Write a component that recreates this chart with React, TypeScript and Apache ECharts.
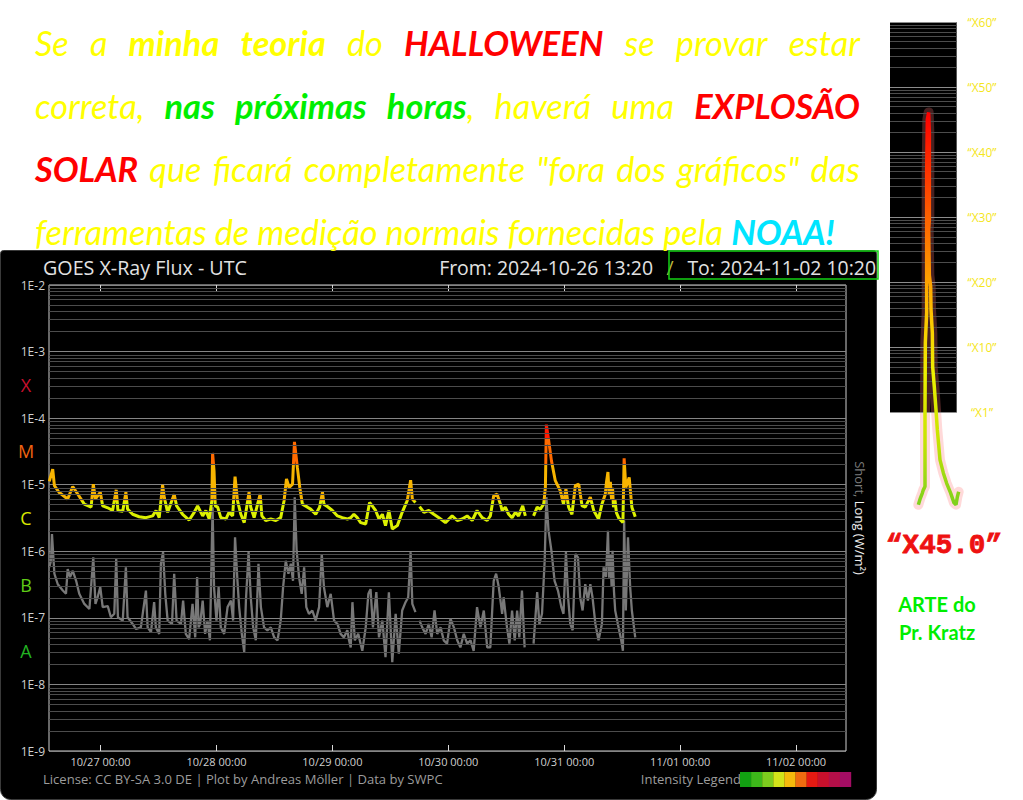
import React, { useEffect, useRef } from 'react';
import * as echarts from 'echarts';

// ---------- axis / tick data ----------
const dayTicks = [0, 24, 48, 72, 96, 120, 144]; // hours since 2024-10-27 00:00 UTC
const dayLabels = ['10/27 00:00', '10/28 00:00', '10/29 00:00', '10/30 00:00', '10/31 00:00', '11/01 00:00', '11/02 00:00'];
const rangeStartHour = -10 - 40 / 60; // 2024-10-26 13:20
const rangeEndHour = 154 + 20 / 60; // 2024-11-02 10:20
const fluxMinExp = -9;
const fluxMaxExp = -2;
const classLetters = ['A', 'B', 'C', 'M', 'X'];
const classLetterExp = [-7.5, -6.5, -5.5, -4.5, -3.5];
const classColors = ['#22b422', '#5fcc16', '#d8e800', '#f06410', '#c8102e'];
const legendColors = ['#12a012', '#3db81a', '#7dcc1e', '#d2e41a', '#f5ba0c', '#ef6c10', '#e51a12', '#c8102c', '#b30f48', '#a30d64'];

// ---------- GOES long channel (0.1-0.8 nm), W/m² ----------
const longTime = [
  -10.6, -9.9, -9.55, -8.6, -6.8, -5.75, -4.7, -3.35, -1.95, -1.5, -1.05, -0.6, -0.05, 0.45, 1.5, 2.5, 3.25, 3.6, 4.6, 5.25,
  5.6, 6.65, 8.0, 9.4, 10.8, 11.5, 12.15, 12.85, 13.2, 13.9, 15.25, 15.75, 17.0, 18.35, 19.4, 20.1, 21.15, 21.8, 22.5, 23.05,
  23.2, 23.5, 23.75, 24.25, 24.9, 25.95, 26.6, 27.35, 27.85, 28.35, 29.05, 29.75, 30.75, 31.1, 31.8, 33.05, 33.4, 34.2, 35.25, 36.3,
  37.3, 38.0, 38.5, 39.05, 39.75, 40.15, 40.75, 41.25, 41.8, 42.85, 43.5, 44.55, 45.35, 45.95, 46.25, 46.95, 48.0, 49.05, 50.05, 51.1,
  51.8, 52.45, 53.15, 53.85, 54.9, 55.7, 56.25, 56.95, 57.65, 58.35, 59.0, 59.7, 60.4, 61.45, 62.45, 63.5, 64.2, 64.55, 65.2, 65.6,
  66.05, 66.95, 67.95, 69.0, 70.05, 71.4, 72.8, 73.85, 74.85, 75.9, 76.95, 77.95, 79.0, 80.05, 80.7, 81.4, 82.1, 82.8, 83.15, 83.8,
  84.5, 85.2, 85.9, 86.55, 87.4, 87.95, 88.8, 89.65, 90.4, 91.05, 91.75, 92.1, 92.3, 92.75, 93.35, 94.15, 95.2, 95.85, 96.35, 96.9,
  97.6, 98.3, 99.0, 99.7, 100.35, 101.4, 102.1, 103.1, 103.8, 104.5, 104.75, 105.05, 105.3, 105.55, 105.8, 106.0, 106.2, 106.5, 106.8, 107.25,
  108.15, 108.4, 108.75, 109.45, 110.0, 110.7,
];
const longFlux: (number | null)[] = [
  1.12e-5, 1.72e-5, 9.7e-6, 7.7e-6, 6.1e-6, 9.4e-6, 7.2e-6, 5.1e-6, 4.6e-6, 1.02e-5, 6.1e-6, 6.8e-6, 7.7e-6, 4.8e-6, 4.5e-6, 4.1e-6, 8.4e-6, 4.1e-6, 4.0e-6, 7.7e-6,
  4.3e-6, 3.6e-6, 3.3e-6, 3.2e-6, 3.4e-6, 4.1e-6, 3.2e-6, 9.9e-6, 6.4e-6, 3.85e-6, 7.2e-6, 4.8e-6, 3.6e-6, 2.95e-6, 3.85e-6, 4.8e-6, 3.4e-6, 4.1e-6, 3.05e-6, 5.75e-6,
  3.0e-5, 1.62e-5, 4.8e-6, 4.6e-6, 3.2e-6, 3.05e-6, 3.85e-6, 3.4e-6, 1.32e-5, 5.75e-6, 3.6e-6, 2.7e-6, 7.7e-6, 4.6e-6, 3.2e-6, 7.2e-6, 3.4e-6, 2.9e-6, 3.05e-6, 2.9e-6,
  3.2e-6, 5.75e-6, 1.22e-5, 9.1e-6, 1.02e-5, 4.4e-5, 1.82e-5, 9.1e-6, 5.1e-6, 4.6e-6, 4.3e-6, 3.6e-6, 4.6e-6, 7.7e-6, 5.1e-6, 4.7e-6, 4.1e-6, 3.4e-6, 3.2e-6, 3.05e-6,
  3.2e-6, 3.6e-6, 3.2e-6, 2.7e-6, 2.57e-6, 5.4e-6, 4.8e-6, 4.1e-6, 3.05e-6, 3.6e-6, 2.43e-6, 4.1e-6, 2.16e-6, 2.43e-6, 3.85e-6, 5.75e-6, 1.17e-5, 6.1e-6, 5.4e-6, null,
  4.7e-6, 3.85e-6, 4.1e-6, 3.6e-6, 3.2e-6, 2.7e-6, 3.4e-6, 2.9e-6, 3.05e-6, 3.4e-6, 2.9e-6, 4.1e-6, 3.2e-6, 2.9e-6, 3.4e-6, 6.8e-6, 7.2e-6, 5.1e-6, 4.1e-6, 4.6e-6,
  3.6e-6, 3.2e-6, 3.85e-6, 3.4e-6, 4.8e-6, 3.4e-6, null, 3.4e-6, 4.6e-6, 4.3e-6, 5.1e-6, 9.1e-6, 8.0e-5, 4.8e-5, 2.3e-5, 1.15e-5, 8.1e-6, 5.1e-6, 8.6e-6, 4.6e-6,
  3.6e-6, 9.7e-6, 1.02e-5, 4.8e-6, 4.6e-6, 6.5e-6, 4.1e-6, 3.05e-6, 5.1e-6, 7.2e-6, 1.1e-5, 1.55e-5, 7.0e-6, 1.1e-5, 6.0e-6, 9.0e-6, 4.6e-6, 6.0e-6, 3.8e-6, 3.2e-6,
  2.7e-6, 2.5e-5, 9.1e-6, 1.29e-5, 4.6e-6, 3.3e-6,
];

// ---------- GOES short channel (0.05-0.4 nm), W/m² ----------
const shortTime = [
  -10.6, -10.25, -10.05, -9.55, -8.85, -7.8, -7.15, -6.8, -6.3, -5.75, -5.05, -4.4, -3.35, -2.3, -1.5, -1.05, -0.6, -0.05, 0.45, 1.5,
  2.15, 2.85, 3.25, 3.6, 4.6, 5.25, 5.6, 6.65, 7.35, 8.35, 9.4, 9.75, 10.45, 11.1, 11.45, 12.15, 12.5, 12.95, 13.4, 13.9,
  14.8, 15.25, 15.75, 16.65, 17.1, 17.65, 18.35, 19.05, 19.6, 20.0, 20.3, 20.6, 21.15, 21.65, 22.15, 22.65, 23.2, 23.5, 24.0, 24.45,
  24.9, 25.6, 26.3, 27.0, 27.45, 27.85, 28.35, 28.7, 29.25, 29.75, 30.1, 30.65, 31.1, 31.6, 32.15, 32.7, 33.2, 33.85, 34.55, 35.25,
  35.95, 36.65, 37.3, 37.8, 38.35, 38.9, 39.4, 39.85, 40.2, 40.6, 41.1, 41.65, 42.15, 42.6, 43.15, 43.85, 44.55, 45.25, 45.8, 46.25,
  46.95, 47.65, 48.35, 49.05, 49.7, 50.4, 51.1, 51.45, 51.8, 52.15, 52.65, 53.35, 54.2, 54.9, 55.45, 55.9, 56.4, 57.1, 57.65, 58.35,
  59.0, 59.7, 60.4, 61.1, 61.75, 62.45, 63.15, 63.7, 64.2, 64.55, 65.2, 65.6, 66.05, 66.6, 67.3, 67.95, 68.55, 69.15, 69.7, 70.4,
  71.05, 71.75, 72.45, 73.15, 73.85, 74.5, 75.2, 75.9, 76.6, 77.25, 77.95, 78.65, 79.35, 80.05, 80.7, 81.4, 81.9, 82.45, 83.15, 83.45,
  84.15, 84.65, 85.2, 85.75, 86.25, 86.7, 87.25, 87.8, 88.8, 89.65, 90.4, 90.85, 91.4, 91.95, 92.3, 92.75, 93.35, 94.0, 94.7, 95.4,
  95.85, 96.35, 96.8, 97.25, 97.75, 98.3, 98.85, 99.3, 99.8, 100.35, 100.9, 101.4, 101.85, 102.45, 103.1, 103.8, 104.15, 104.65, 105.05, 105.3,
  105.55, 105.8, 106.0, 106.3, 106.55, 107.1, 107.8, 108.15, 108.4, 108.75, 109.2, 109.65, 110.0, 110.7,
];
const shortFlux: (number | null)[] = [
  5.75e-7, 7.2e-7, 1.82e-6, 4.6e-7, 3.2e-7, 2.57e-7, 2.3e-7, 5.4e-7, 4.1e-7, 5.1e-7, 3.6e-7, 2.3e-7, 1.62e-7, 1.36e-7, 8.1e-7, 1.62e-7, 2.04e-7, 2.9e-7, 1.45e-7, 1.5e-7,
  1.02e-7, 1.15e-7, 7.7e-7, 1.02e-7, 9.1e-8, 5.75e-7, 1.02e-7, 8.1e-8, 6.8e-8, 7.2e-8, 2.57e-7, 7.2e-8, 6.1e-8, 1.72e-7, 7.2e-8, 5.75e-8, 6.5e-7, 9.7e-7, 2.3e-7, 9.1e-8,
  8.1e-8, 4.6e-7, 9.1e-8, 8.1e-8, 1.82e-7, 5.75e-8, 4.8e-8, 1.62e-7, 5.1e-8, 4.1e-7, 7.2e-8, 8.0e-8, 1.82e-7, 5.75e-8, 9.1e-8, 4.6e-8, 4.6e-6, 2.9e-7, 9.1e-8, 2.9e-7,
  7.2e-8, 5.75e-8, 1.45e-7, 1.82e-7, 9.1e-8, 1.62e-6, 3.6e-7, 1.45e-7, 5.75e-8, 3.05e-8, 1.82e-7, 9.7e-7, 2.04e-7, 7.2e-8, 4.6e-8, 6.5e-7, 1.45e-7, 7.2e-8, 6.5e-8, 7.2e-8,
  5.1e-8, 4.6e-8, 9.1e-8, 2.9e-7, 7.2e-7, 4.6e-7, 6.5e-7, 3.6e-7, 6.5e-6, 1.02e-6, 4.1e-7, 2.3e-7, 5.75e-7, 1.45e-7, 1.15e-7, 1.29e-7, 9.1e-8, 1.45e-7, 9.1e-7, 2.9e-7,
  1.45e-7, 2.3e-7, 9.1e-8, 8.1e-8, 5.75e-8, 5.1e-8, 6.5e-8, 4.6e-8, 3.6e-8, 1.72e-7, 4.6e-8, 5.75e-8, 3.2e-8, 7.2e-8, 2.3e-7, 2.7e-7, 7.2e-8, 2.43e-7, 5.1e-8, 9.1e-8,
  2.57e-8, 2.43e-7, 2.16e-8, 1.15e-7, 2.9e-8, 1.29e-7, 1.72e-7, 2.04e-7, 9.7e-7, 1.62e-7, 1.22e-7, null, 9.1e-8, 7.2e-8, 5.75e-8, 8.1e-8, 5.1e-8, 1.29e-7, 5.75e-8, 7.2e-8,
  4.6e-8, 4.1e-8, 9.7e-8, 7.2e-8, 4.6e-8, 3.6e-8, 5.75e-8, 4.1e-8, 4.6e-8, 3.2e-8, 1.45e-7, 7.2e-8, 1.29e-7, 3.6e-8, 3.6e-8, 3.6e-7, 4.6e-7, 2.9e-7, 1.15e-7, 2.04e-7,
  7.2e-8, 4.1e-8, 1.29e-7, 4.6e-8, 1.29e-7, 5.1e-8, 2.57e-7, 3.6e-8, null, 4.1e-8, 2.43e-7, 8.1e-8, 1.15e-7, 7.2e-7, 6.5e-6, 2.04e-6, 1.02e-6, 3.6e-7, 2.57e-7, 1.45e-7,
  1.15e-7, 9.7e-7, 2.04e-7, 8.1e-8, 6.5e-8, 9.1e-7, 8.1e-7, 2.04e-7, 1.29e-7, 3.2e-7, 1.82e-7, 3.2e-7, 2.04e-7, 8.1e-8, 4.6e-8, 8.1e-8, 5.75e-7, 4.1e-7, 2.04e-6, 4.0e-7,
  9.1e-7, 3.0e-7, 1.02e-6, 2.5e-7, 1.29e-7, 8.1e-8, 4.6e-8, 3.2e-8, 2.9e-6, 1.29e-7, 1.62e-6, 2.9e-7, 1.29e-7, 5.1e-8,
];

// ---------- "X" sketch on the right (X-class units) ----------
const sparkTime = [42.5, 45.5, 48.5, 50, 51.5, 52.5, 52.5, 53, 55, 55, 55, 56, 58, 59, 59, 58, 59, 61, 61.5, 63.5, 64, 66.5, 69, 71, 75, 80, 85, 91, 96, 99, 101, 103];
const sparkLevel = [-14.2, -13.2, -12.4, -11.9, -11.6, -11.4, -0.1, 10.7, 15.3, 27.6, 36.8, 45.0, 46.1, 43.0, 29.6, 28.1, 21.1, 19.3, 15.8, 12.2, 7.0, 3.9, 0.4, -2.7, -7.3, -9.3, -10.9, -12.4, -13.9, -14.2, -13.0, -12.2];
const sparkTickValues = [0, 10, 20, 30, 40, 50, 60];
const sparkTickLabels = ['X1', 'X10', 'X20', 'X30', 'X40', 'X50', 'X60'];

// ---------- headline text ----------
type Seg = [string, string];
const headlineLines: Seg[][][] = [
  [[['Se', 'n']], [['a', 'n']], [['minha', 'yb']], [['teoria', 'yb']], [['do', 'n']], [['HALLOWEEN', 'r']], [['se', 'n']], [['provar', 'n']], [['estar', 'n']]],
  [[['correta,', 'n']], [['nas', 'g']], [['próximas', 'g']], [['horas', 'g'], [',', 'n']], [['haverá', 'n']], [['uma', 'n']], [['EXPLOSÃO', 'r']]],
  [[['SOLAR', 'r']], [['que', 'n']], [['ficará', 'n']], [['completamente', 'n']], [['"fora', 'n']], [['dos', 'n']], [['gráficos"', 'n']], [['das', 'n']]],
  [[['ferramentas', 'n']], [['de', 'n']], [['medição', 'n']], [['normais', 'n']], [['fornecidas', 'n']], [['pela', 'n']], [['NOAA!', 'c']]],
];
const headStyles: Record<string, { fill: string; weight: string }> = {
  n: { fill: '#ffff00', weight: 'normal' },
  yb: { fill: '#ffff00', weight: 'bold' },
  r: { fill: '#ff0000', weight: 'bold' },
  g: { fill: '#00ee00', weight: 'bold' },
  c: { fill: '#00e5ff', weight: 'bold' },
};

const HEAD_FONT = 'Lato';
const UI_FONT = 'Open Sans';

function makeMeasure() {
  const c = document.createElement('canvas');
  const ctx = c.getContext('2d') as CanvasRenderingContext2D;
  return (text: string, font: string) => {
    ctx.font = font;
    return ctx.measureText(text).width;
  };
}

function buildHeadline(measure: (t: string, f: string) => number) {
  const fnt = (k: string, s: number) => `italic ${headStyles[k].weight} ${s}px ${HEAD_FONT}`;
  const wordW = (w: Seg[], s: number) => w.reduce((a, sg) => a + measure(sg[0], fnt(sg[1], s)), 0);
  const last = headlineLines[headlineLines.length - 1];
  const sp100 = measure(' ', fnt('n', 100));
  const nat = last.reduce((a, w) => a + wordW(w, 100), 0) + sp100 * (last.length - 1);
  const size = (100 * 800) / nat;
  const left = 35;
  const right = 860;
  const ys = [42, 105, 168, 231];
  const els: any[] = [];
  headlineLines.forEach((line, li) => {
    const ws = line.map((w) => wordW(w, size));
    const total = ws.reduce((a, b) => a + b, 0);
    const gap = li < headlineLines.length - 1 ? (right - left - total) / (line.length - 1) : measure(' ', fnt('n', size));
    let x = left;
    line.forEach((w) => {
      w.forEach((sg) => {
        const st = headStyles[sg[1]];
        els.push({
          type: 'text',
          style: {
            text: sg[0], x, y: ys[li], fill: st.fill, fontSize: size, fontFamily: HEAD_FONT,
            fontStyle: 'italic', fontWeight: st.weight, align: 'left', verticalAlign: 'middle',
          },
        });
        x += measure(sg[0], fnt(sg[1], size));
      });
      x += gap;
    });
  });
  return els;
}

function fit(measure: (t: string, f: string) => number, text: string, family: string, weight: string, target: number) {
  return (100 * target) / measure(text, `${weight} 100px '${family}'`);
}

export default function App() {
  const ref = useRef<HTMLDivElement>(null);
  useEffect(() => {
    if (!ref.current) return;
    const chart = echarts.init(ref.current, null, { renderer: 'svg' });
    const measure = makeMeasure();

    const toLog = (v: number | null) => (v == null ? '-' : Math.log10(v));
    const longData = longTime.map((t, i) => [t, toLog(longFlux[i])]);
    const shortData = shortTime.map((t, i) => [t, toLog(shortFlux[i])]);
    const sparkData = sparkTime.map((t, i) => [t, sparkLevel[i]]);

    const minorLines: number[] = [];
    for (let k = fluxMinExp; k < fluxMaxExp; k++) for (let m = 2; m <= 9; m++) minorLines.push(k + Math.log10(m));
    const sparkMinor: number[] = [];
    for (let b = 0; b < 60; b += 10) for (let m = 2; m <= 9; m++) sparkMinor.push(b + 10 * Math.log10(m));

    const titleText = 'GOES X-Ray Flux - UTC';
    const fromText = 'From: 2024-10-26 13:20';
    const toText = 'To: 2024-11-02 10:20';
    const licText = 'License: CC BY-SA 3.0 DE | Plot by Andreas Möller | Data by SWPC';
    const titleSize = fit(measure, titleText, UI_FONT, 'normal', 204);
    const rangeSize = fit(measure, fromText, UI_FONT, 'normal', 214);
    const licSize = fit(measure, licText, UI_FONT, 'normal', 400);
    const xSize = fit(measure, '“X45.0”', 'Liberation Mono', 'bold', 116);

    const graphics: any[] = [
      { type: 'rect', z: -10, shape: { x: 0.5, y: 250.5, width: 876, height: 549, r: [3, 3, 10, 10] }, style: { fill: '#000', stroke: '#3a3a3a', lineWidth: 1 } },
      { type: 'text', style: { text: titleText, x: 43, y: 267, fill: '#e2e2e2', fontSize: titleSize, fontFamily: UI_FONT, verticalAlign: 'middle' } },
      { type: 'text', style: { text: fromText, x: 653, y: 267, fill: '#e2e2e2', fontSize: rangeSize, fontFamily: UI_FONT, align: 'right', verticalAlign: 'middle' } },
      { type: 'text', style: { text: '/', x: 670, y: 267, fill: '#b8b83a', fontSize: rangeSize, fontFamily: UI_FONT, align: 'center', verticalAlign: 'middle' } },
      { type: 'text', style: { text: toText, x: 876, y: 267, fill: '#e2e2e2', fontSize: rangeSize, fontFamily: UI_FONT, align: 'right', verticalAlign: 'middle' } },
      { type: 'rect', shape: { x: 669, y: 251, width: 209, height: 28 }, style: { fill: 'none', stroke: '#14d214', lineWidth: 1.5 } },
      { type: 'text', style: { text: licText, x: 43, y: 779, fill: '#9c9c9c', fontSize: licSize, fontFamily: UI_FONT, verticalAlign: 'middle' } },
      { type: 'text', style: { text: 'Intensity Legend', x: 741, y: 779, fill: '#9c9c9c', fontSize: licSize, fontFamily: UI_FONT, align: 'right', verticalAlign: 'middle' } },
      ...legendColors.map((c, i) => ({ type: 'rect', shape: { x: 740 + i * 11.1, y: 772, width: 11.3, height: 15 }, style: { fill: c } })),
      {
        type: 'text', x: 860, y: 518, rotation: -Math.PI / 2,
        style: {
          text: '{s|Short,} {l|Long (W/m²)}', x: 0, y: 0, align: 'center', verticalAlign: 'middle', fontSize: 13, fontFamily: UI_FONT,
          rich: { s: { fill: '#7c7c7c', fontSize: 13, fontFamily: UI_FONT }, l: { fill: '#f0f0f0', fontSize: 13, fontFamily: UI_FONT } },
        },
      },
      { type: 'text', style: { text: '“X45.0”', x: 944, y: 545, fill: '#ee1111', fontSize: xSize, fontFamily: 'Liberation Mono', fontWeight: 'bold', align: 'center', verticalAlign: 'middle', stroke: '#ee1111', lineWidth: 0.8 } },
      { type: 'text', style: { text: 'ARTE do', x: 937, y: 604, fill: '#00ee00', fontSize: 20, fontFamily: HEAD_FONT, fontWeight: 'bold', align: 'center', verticalAlign: 'middle' } },
      { type: 'text', style: { text: 'Pr. Kratz', x: 937, y: 632, fill: '#00ee00', fontSize: 20, fontFamily: HEAD_FONT, fontWeight: 'bold', align: 'center', verticalAlign: 'middle' } },
      ...buildHeadline(measure),
    ];

    const option: any = {
      animation: false,
      backgroundColor: '#ffffff',
      textStyle: { fontFamily: UI_FONT },
      grid: [
        { left: 49, top: 285, width: 797, height: 466, show: true, backgroundColor: '#000', borderColor: '#cfcfcf', borderWidth: 1, containLabel: false },
        { left: 890, top: 22, width: 70, height: 488, show: false, containLabel: false },
      ],
      xAxis: [
        {
          type: 'value', gridIndex: 0, position: 'bottom', min: rangeStartHour, max: rangeEndHour,
          axisLine: { show: false, onZero: false },
          axisTick: { show: true, inside: true, length: 6, customValues: dayTicks, lineStyle: { color: '#d8d8d8' } },
          axisLabel: {
            customValues: dayTicks, color: '#cfcfcf', fontSize: 11, fontFamily: UI_FONT, margin: 5,
            formatter: (v: number) => dayLabels[dayTicks.indexOf(Math.round(v))] || '',
          },
          splitLine: { show: false },
        },
        {
          type: 'value', gridIndex: 0, position: 'top', min: rangeStartHour, max: rangeEndHour,
          axisLine: { show: false, onZero: false },
          axisTick: { show: true, inside: true, length: 6, customValues: dayTicks, lineStyle: { color: '#d8d8d8' } },
          axisLabel: { show: false },
          splitLine: { show: false },
        },
        { type: 'value', gridIndex: 1, min: 0, max: 105, show: false, axisLine: { onZero: false } },
      ],
      yAxis: [
        {
          type: 'value', gridIndex: 0, position: 'left', min: fluxMinExp, max: fluxMaxExp, interval: 1,
          axisLine: { show: false, onZero: false }, axisTick: { show: false },
          axisLabel: { color: '#d0d0d0', fontSize: 12, fontFamily: UI_FONT, margin: 4, formatter: (v: number) => '1E' + Math.round(v) },
          splitLine: { show: true, lineStyle: { color: '#858585', width: 1 } },
        },
        {
          type: 'value', gridIndex: 0, position: 'left', min: fluxMinExp, max: fluxMaxExp,
          axisLine: { show: false, onZero: false }, axisTick: { show: false }, splitLine: { show: false },
          axisLabel: {
            customValues: classLetterExp, fontSize: 18, fontFamily: UI_FONT, align: 'center', margin: 23,
            formatter: (v: number) => {
              const i = classLetterExp.findIndex((p) => Math.abs(p - Number(v)) < 0.01);
              return i >= 0 ? classLetters[i] : '';
            },
            color: (v: any) => {
              const i = classLetterExp.findIndex((p) => Math.abs(p - Number(v)) < 0.01);
              return i >= 0 ? classColors[i] : '#fff';
            },
          },
        },
        {
          type: 'value', gridIndex: 1, position: 'right', min: -15, max: 60,
          axisLine: { show: false, onZero: false }, axisTick: { show: false }, splitLine: { show: false },
          axisLabel: {
            customValues: sparkTickValues, color: '#f5e61a', fontSize: 12, fontFamily: UI_FONT, align: 'center', margin: 22,
            formatter: (v: number) => {
              const i = sparkTickValues.indexOf(Math.round(Number(v)));
              return i >= 0 ? '“' + sparkTickLabels[i] + '”' : '';
            },
          },
        },
      ],
      visualMap: [
        {
          type: 'piecewise', show: false, seriesIndex: 1, dimension: 1,
          pieces: [
            { lt: -5.25, color: '#dcf000' },
            { gte: -5.25, lt: -4.7, color: '#f7b400' },
            { gte: -4.7, lt: -4.3, color: '#ff6a00' },
            { gte: -4.3, color: '#ff1a00' },
          ],
        },
        {
          type: 'continuous', show: false, seriesIndex: 5, dimension: 1, min: -14, max: 46,
          inRange: { color: ['#7fd11b', '#c8e400', '#eef000', '#ffbe00', '#ff7a00', '#ff3a00', '#ff0000'] },
        },
      ],
      series: [
        {
          name: 'Short', type: 'line', xAxisIndex: 0, yAxisIndex: 0, data: shortData, showSymbol: false, symbol: 'none',
          connectNulls: false, z: 3, lineStyle: { color: '#787878', width: 2.3 }, silent: true,
        },
        {
          name: 'Long', type: 'line', xAxisIndex: 0, yAxisIndex: 0, data: longData, showSymbol: false, symbol: 'none',
          connectNulls: false, z: 4, lineStyle: { width: 3 }, silent: true,
        },
        {
          type: 'line', xAxisIndex: 0, yAxisIndex: 0, data: [], z: 1, silent: true,
          markLine: {
            silent: true, symbol: ['none', 'none'], label: { show: false }, animation: false,
            lineStyle: { color: '#4c4c4c', width: 1, type: 'solid' },
            data: minorLines.map((v) => ({ yAxis: v })),
          },
        },
        {
          type: 'line', xAxisIndex: 2, yAxisIndex: 2, data: [], z: 1, silent: true,
          markArea: { silent: true, itemStyle: { color: '#000' }, data: [[{ coord: [0, 0] }, { coord: [100, 60.3] }]] },
        },
        {
          type: 'line', xAxisIndex: 2, yAxisIndex: 2, data: [], z: 2, silent: true,
          markLine: {
            silent: true, symbol: ['none', 'none'], label: { show: false }, animation: false,
            data: [
              ...sparkMinor.map((v) => [{ coord: [0, v], lineStyle: { color: '#4c4c4c', width: 1, type: 'solid' } }, { coord: [100, v] }]),
              ...sparkTickValues.map((v) => [{ coord: [0, v], lineStyle: { color: '#8c8c8c', width: 1.2, type: 'solid' } }, { coord: [100, v] }]),
            ],
          },
        },
        {
          name: 'X45', type: 'line', xAxisIndex: 2, yAxisIndex: 2, data: sparkData, showSymbol: false, symbol: 'none', z: 5,
          clip: false, silent: true,
          lineStyle: { width: 3.5 },
        },
        {
          name: 'X45 glow', type: 'line', xAxisIndex: 2, yAxisIndex: 2, data: sparkData, showSymbol: false, symbol: 'none', z: 4,
          clip: false, silent: true,
          lineStyle: { width: 10, color: 'rgba(255,120,120,0.28)', cap: 'round', join: 'round' },
        },
      ],
      graphic: graphics,
    };
    chart.setOption(option);
    return () => chart.dispose();
  }, []);
  return <div ref={ref} style={{ position: 'absolute', left: 0, top: 0, width: 1023, height: 800 }} />;
}
